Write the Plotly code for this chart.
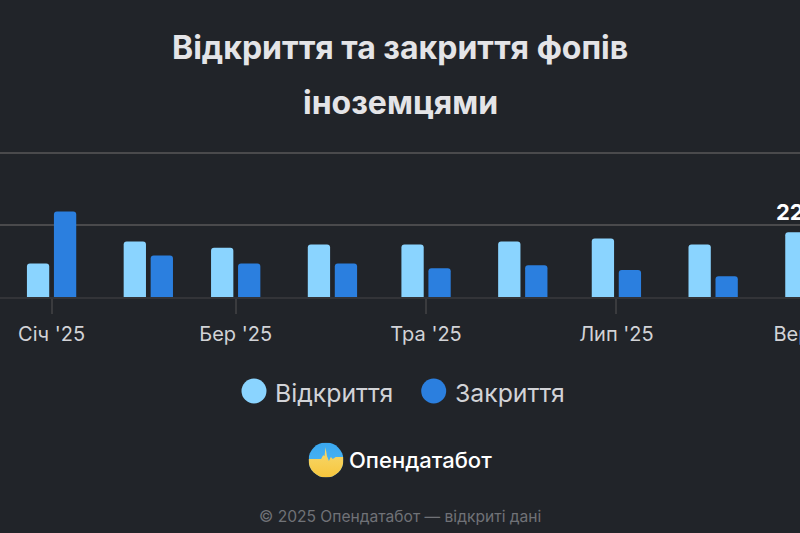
import plotly.graph_objects as go

##### Data #####

months_open = ['2025-01-01', '2025-02-01', '2025-03-01', '2025-04-01', '2025-05-01',
               '2025-06-01', '2025-07-01', '2025-08-01', '2025-09-01']
months_close = months_open[:8]
opened = [116, 193, 171, 182, 182, 193, 203, 182, 225]
closed = [297, 144, 116, 116, 100, 110, 94, 72]

tick_dates = ['2025-01-01', '2025-03-01', '2025-05-01', '2025-07-01', '2025-09-01']
tick_labels = ["Січ '25", "Бер '25", "Тра '25", "Лип '25", "Вер '25"]
grid_values = [250, 500]

title_lines = ['Відкриття та закриття фопів', 'іноземцями']
legend_names = ['Відкриття', 'Закриття']

BG = '#212429'
LIGHT = '#8AD4FF'
DARK = '#2B7FDF'
FONT = 'Inter'

# the page is wider than the window, September runs off the right edge
W, H = 900, 533
TOP, BOTTOM = 140, 236


def px(x):
    return x / W


def py(y):
    return (H - BOTTOM - y) / (H - BOTTOM - TOP)


def label(text, x, y, size, color, bold=False, anchor='center', weight=None):
    if weight is None:
        weight = 'bold' if bold else 'normal'
    return dict(text=f'<b>{text}</b>' if bold else text, x=px(x), y=py(y), xref='paper', yref='paper',
                xanchor=anchor, yanchor='middle', showarrow=False,
                font=dict(family=FONT, size=size, color=color, weight=weight))


def dot(x, y, r, color):
    return dict(type='circle', xref='paper', yref='paper', x0=px(x - r), x1=px(x + r),
                y0=py(y + r), y1=py(y - r), fillcolor=color, line_width=0)


fig = go.Figure()
fig.add_trace(go.Bar(x=months_open, y=opened, name=legend_names[0], marker_color=LIGHT,
                     marker_cornerradius=3, marker_line_width=0))
fig.add_trace(go.Bar(x=months_close, y=closed, name=legend_names[1], marker_color=DARK,
                     marker_cornerradius=3, marker_line_width=0))

annotations = [
    label(title_lines[0], 400, 48, 32, '#E4E4E7', bold=True),
    label(title_lines[1], 400, 102, 32, '#E4E4E7', bold=True),
    label(legend_names[0], 273, 393, 24.8, '#D2D3D7', anchor='left'),
    label(legend_names[1], 452.5, 393, 24.8, '#D2D3D7', anchor='left'),
    label('Опендатабот', 347, 460, 22, '#FFFFFF', anchor='left', weight=500),
    label('© 2025 Опендатабот — відкриті дані', 400, 516, 15.6, '#707277'),
    dict(text=f'<b>{opened[-1]}</b>', x=months_open[-1], y=opened[-1], xref='x', yref='y',
         xanchor='center', yanchor='bottom', xshift=-12.5, yshift=5, showarrow=False,
         font=dict(family=FONT, size=22, color='#FFFFFF')),
]

logo = ("data:image/svg+xml;utf8,<svg xmlns='http://www.w3.org/2000/svg' viewBox='0 0 36 36'>"
        "<defs><linearGradient id='a' x1='0' y1='0' x2='0' y2='1'>"
        "<stop offset='0' stop-color='%233AA8F0'/><stop offset='1' stop-color='%2350B8F5'/></linearGradient>"
        "<linearGradient id='b' x1='0' y1='0' x2='0' y2='1'>"
        "<stop offset='0' stop-color='%23F5D970'/><stop offset='1' stop-color='%23F8C63C'/></linearGradient>"
        "<clipPath id='c'><circle cx='18' cy='18' r='18'/></clipPath></defs>"
        "<g clip-path='url(%23c)'><rect width='36' height='36' fill='url(%23a)'/>"
        "<path d='M0 17 L13 17 L15 13 L16.5 14 L17.5 5 L19 14 L21 19 L23 15 L25 17 L28 15 L36 15 L36 36 L0 36 Z' "
        "fill='url(%23b)'/></g></svg>")

fig.update_layout(
    width=W, height=H,
    margin=dict(l=0, r=0, t=TOP, b=BOTTOM),
    paper_bgcolor=BG, plot_bgcolor=BG,
    barmode='group', bargap=0.382, bargroupgap=0.174,
    showlegend=False,
    font=dict(family=FONT),
    annotations=annotations,
    shapes=[dot(254, 391, 12.5, LIGHT), dot(433.7, 391, 12.5, DARK)],
    images=[dict(source=logo, xref='paper', yref='paper', x=px(308.5), y=py(442.5),
                 sizex=px(35), sizey=35 / (H - BOTTOM - TOP), xanchor='left', yanchor='top',
                 sizing='stretch', layer='above')],
)
fig.update_xaxes(
    type='date', range=['2024-12-15 11:17', '2025-09-29 21:00'],
    tickmode='array', tickvals=tick_dates, ticktext=tick_labels,
    ticks='outside', ticklen=15, tickwidth=1.5, tickcolor='#3A3B3E',
    tickfont=dict(family=FONT, size=20, color='#D2D3D7'),
    ticklabelstandoff=3,
    showline=True, linecolor='#333438', linewidth=2, showgrid=False, zeroline=False,
)
# 72.5 px per 250, top of the plot a bit above the 500 gridline so it is not clipped
fig.update_yaxes(
    range=[0, 545], tickmode='array', tickvals=grid_values, showticklabels=False,
    showgrid=True, gridcolor='#4A4A4C', gridwidth=2, zeroline=False, showline=False,
)

fig.write_html("out.html", config={'displayModeBar': False},
               post_script="document.body.style.margin='0';document.body.style.overflow='hidden';"
                           "document.documentElement.style.overflow='hidden';")
